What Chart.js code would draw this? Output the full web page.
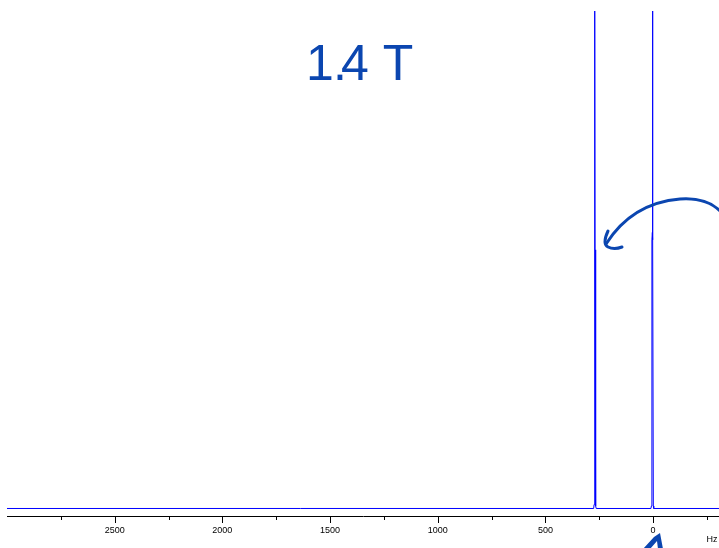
<!DOCTYPE html>
<html>
<head>
<meta charset="utf-8">
<style>
  html, body { margin: 0; padding: 0; background: #fff; }
  #wrap { width: 719px; height: 548px; position: relative; }
</style>
<script src="https://cdn.jsdelivr.net/npm/chart.js@4.4.1/dist/chart.umd.min.js"></script>
</head>
<body>
<div id="wrap"><canvas id="spectrum"></canvas></div>
<script>
(function() {
    'use strict';

    // ===== Data =====
    const shiftHz   = [3000, 276, 274, 272.5, 270.5, 270, 269.5, 267.5, 266, 264,
                       10, 8, 5.5, 3.5, 3, 2.5, 0.5, -1, -3, -306];
    const intensity = [0, 0, 0.8, 50.5, 52, 102, 52, 50.5, 0.5, 0,
                       0, 0.5, 54, 55.5, 102, 55.5, 54, 0.5, 0, 0];
    const majorTicks = [2500, 2000, 1500, 1000, 500, 0];
    const minorTicks = [2750, 2250, 1750, 1250, 750, 250, -250];
    const axisUnit = 'Hz';
    const fieldNote = ['1', '.', '4', 'T'];

    const ink = '#0b46b0';

    // ===== Axis ticks, unit and handwritten notes =====
    const decorations = {
        id: 'decorations',
        afterDraw(chart) {
            const ctx = chart.ctx;
            const x = chart.scales.x;
            const bottom = chart.chartArea.bottom;

            ctx.save();
            ctx.strokeStyle = '#000';
            ctx.lineWidth = 1;
            ctx.beginPath();
            majorTicks.forEach(v => {
                const px = Math.round(x.getPixelForValue(v)) + 0.5;
                ctx.moveTo(px, bottom);
                ctx.lineTo(px, bottom + 7);
            });
            minorTicks.forEach(v => {
                const px = Math.round(x.getPixelForValue(v)) + 0.5;
                ctx.moveTo(px, bottom);
                ctx.lineTo(px, bottom + 4);
            });
            ctx.stroke();

            ctx.fillStyle = '#000';
            ctx.font = '9px "Liberation Sans", Arial, sans-serif';
            ctx.textAlign = 'center';
            ctx.textBaseline = 'middle';
            ctx.fillText(axisUnit, 712, 540);

            // handwritten "1.4 T"
            ctx.fillStyle = ink;
            ctx.font = '50px "Liberation Sans", Arial, sans-serif';
            ctx.textBaseline = 'alphabetic';
            const notePos = [320, 340, 355, 398];
            fieldNote.forEach((ch, i) => ctx.fillText(ch, notePos[i], 80));

            // curved arrow
            ctx.strokeStyle = ink;
            ctx.lineWidth = 3;
            ctx.lineCap = 'round';
            ctx.lineJoin = 'round';
            ctx.beginPath();
            ctx.moveTo(722, 213);
            ctx.quadraticCurveTo(708, 197, 680, 199);
            ctx.quadraticCurveTo(632, 203, 606, 244);
            ctx.stroke();
            ctx.beginPath();
            ctx.moveTo(608, 231);
            ctx.quadraticCurveTo(602, 244, 608, 247);
            ctx.quadraticCurveTo(614, 250, 622, 247);
            ctx.stroke();

            // cut-off mark at the bottom
            ctx.fillStyle = ink;
            ctx.beginPath();
            ctx.moveTo(643, 549);
            ctx.lineTo(654, 537);
            ctx.lineTo(660, 533);
            ctx.lineTo(663, 549);
            ctx.lineTo(658, 549);
            ctx.lineTo(657, 541);
            ctx.lineTo(650, 549);
            ctx.closePath();
            ctx.fill();
            ctx.restore();
        }
    };

    // ===== Chart =====
    const points = shiftHz.map((v, i) => ({ x: v, y: intensity[i] }));

    new Chart(document.getElementById('spectrum').getContext('2d'), {
        type: 'line',
        data: {
            datasets: [{
                data: points,
                borderColor: '#0000ff',
                borderWidth: 1,
                pointRadius: 0,
                tension: 0,
                fill: false
            }]
        },
        options: {
            responsive: true,
            maintainAspectRatio: false,
            animation: false,
            layout: { padding: { left: 7, top: 11, right: 0, bottom: 0 } },
            plugins: {
                legend: { display: false },
                tooltip: { enabled: false }
            },
            scales: {
                x: {
                    type: 'linear',
                    reverse: true,
                    min: -306,
                    max: 3000,
                    afterBuildTicks(scale) {
                        scale.ticks = majorTicks.concat(minorTicks)
                            .sort((a, b) => a - b)
                            .map(v => ({ value: v }));
                    },
                    afterFit(scale) { scale.height = 32; },
                    grid: {
                        drawOnChartArea: false,
                        tickLength: 7,
                        tickColor: 'rgba(0,0,0,0)'
                    },
                    border: { display: true, color: '#000', width: 1 },
                    ticks: {
                        autoSkip: false,
                        maxRotation: 0,
                        padding: 2,
                        color: '#000',
                        font: { family: '"Liberation Sans", Arial, sans-serif', size: 9 },
                        callback: v => (majorTicks.includes(v) ? String(v) : '')
                    }
                },
                y: {
                    display: false,
                    min: -1.508,
                    max: 100
                }
            }
        },
        plugins: [decorations]
    });
})();
</script>
</body>
</html>
